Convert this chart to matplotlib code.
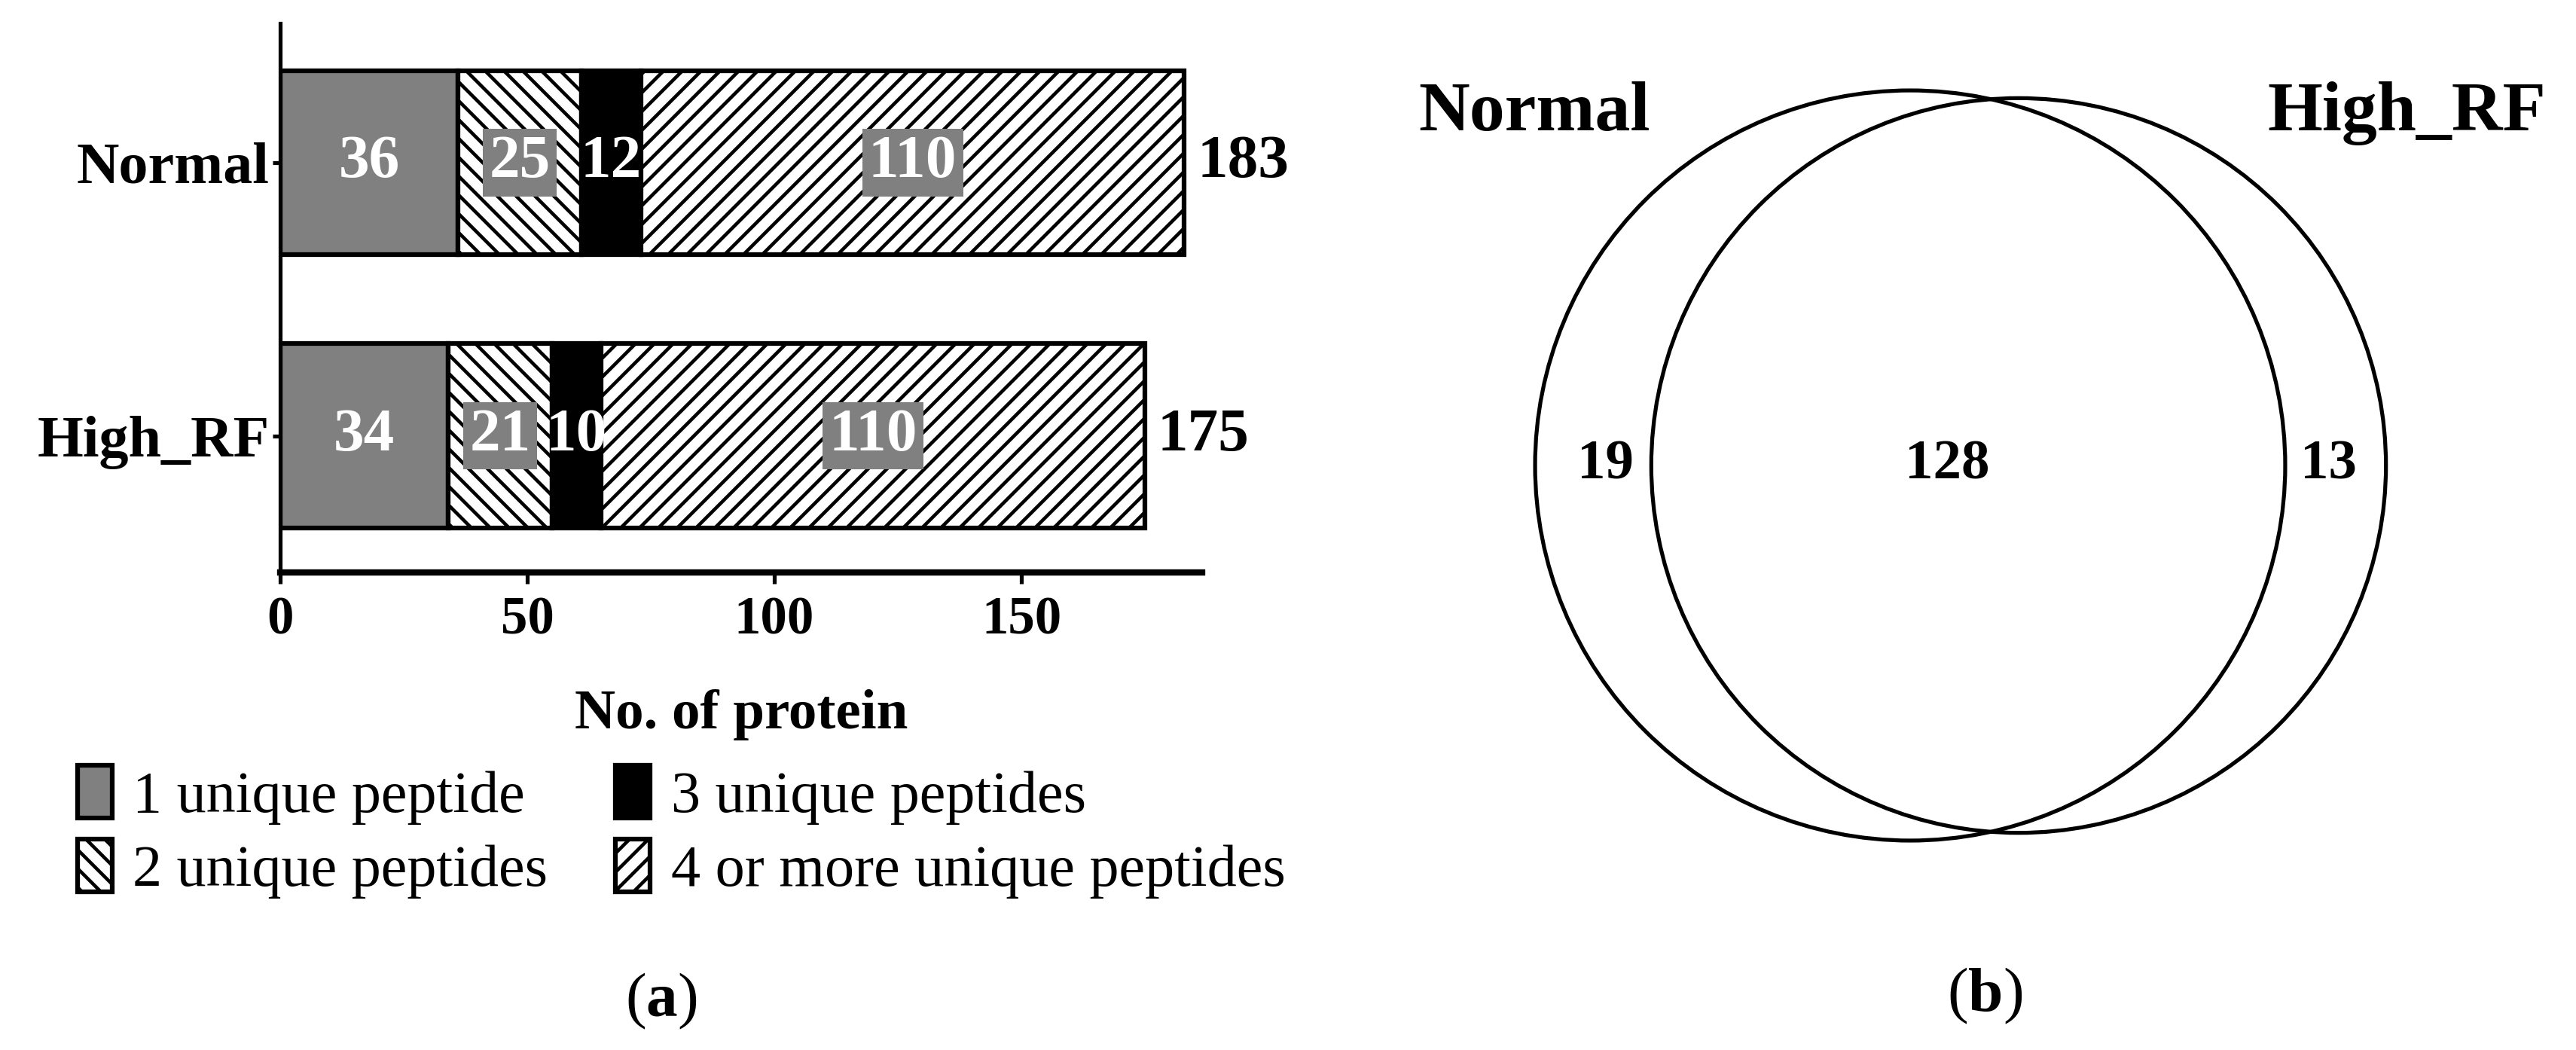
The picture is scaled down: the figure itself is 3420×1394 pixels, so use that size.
import matplotlib.pyplot as plt
from matplotlib.patches import Circle
import numpy as np

plt.rcParams["font.family"] = ["Liberation Serif", "DejaVu Serif"]
plt.rcParams["mathtext.fontset"] = "custom"
plt.rcParams["mathtext.rm"] = "Liberation Serif"
plt.rcParams["mathtext.bf"] = "Liberation Serif:bold"
plt.rcParams["hatch.linewidth"] = 2.2
plt.rcParams["hatch.color"] = "black"

# data
GROUPS = ["Normal", "High_RF"]
CATEGORIES = ["1 unique peptide", "2 unique peptides",
              "3 unique peptides", "4 or more unique peptides"]
NORMAL_COUNTS = [36, 25, 12, 110]
HIGH_RF_COUNTS = [34, 21, 10, 110]
XTICKS = [0, 50, 100, 150]

VENN_SETS = ["Normal", "High_RF"]
ONLY_NORMAL = 19
SHARED = 128
ONLY_HIGH_RF = 13

# styles
FILLS = ["#808080", "white", "black", "white"]
HATCHES = [None, "\\\\", None, "//"]
GREY = "#808080"

fig = plt.figure(figsize=(22.8, 1394 / 150), dpi=150)

# (a) stacked bars
ax = fig.add_axes([0.1088, 0.4548, 0.3579, 0.5230])
ypos = np.array([1, 0])
data = np.array([NORMAL_COUNTS, HIGH_RF_COUNTS])
left = np.zeros(len(GROUPS))
for j, cat in enumerate(CATEGORIES):
    vals = data[:, j]
    ax.barh(ypos, vals, left=left, height=0.675, color=FILLS[j],
            hatch=HATCHES[j], edgecolor="black", linewidth=3, label=cat)
    for y, v, l in zip(ypos, vals, left):
        box = None
        if HATCHES[j]:
            box = dict(boxstyle="square,pad=0.1", fc=GREY, ec="none")
        ax.text(l + v / 2, y, str(v), ha="center", va="center",
                color="white", fontsize=39, fontweight="bold", bbox=box)
    left = left + vals

for y, total in zip(ypos, left):
    ax.annotate(str(int(total)), (total, y), xytext=(8, 0),
                textcoords="offset points", ha="left", va="center",
                fontsize=39, fontweight="bold")

ax.set_xlim(0, 186.6)
ax.set_ylim(-0.5, 1.51)
ax.set_yticks(ypos, GROUPS, fontsize=37.5, fontweight="bold")
ax.set_xticks(XTICKS, [str(t) for t in XTICKS], fontsize=34, fontweight="bold")
ax.spines[["top", "right"]].set_visible(False)
ax.spines["left"].set_linewidth(2.5)
ax.spines["bottom"].set_linewidth(4)
ax.tick_params(axis="x", length=7, width=2.5, pad=8)
ax.tick_params(axis="y", length=5, width=2.5, pad=2)
ax.set_xlabel("No. of protein", fontsize=36, fontweight="bold", labelpad=28)

handles, labels = ax.get_legend_handles_labels()
fig.legend(handles, labels, ncol=2, loc="upper left",
           bbox_to_anchor=(0.0301, 0.271), frameon=False, fontsize=37.5,
           handlelength=0.59, handleheight=1.0, handletextpad=0.35,
           columnspacing=1.15, labelspacing=0.25, borderpad=0,
           borderaxespad=0)

fig.text(0.2567, 0.0466, r"($\mathbf{a}$)", ha="center", va="center",
         fontsize=40)

# (b) venn diagram, drawn in pixel units
vax = fig.add_axes([0, 0, 1, 1])
vax.set_xlim(0, 3420)
vax.set_ylim(1394, 0)
vax.axis("off")

scale = 41.07
r1 = scale * np.sqrt(ONLY_NORMAL + SHARED)
r2 = scale * np.sqrt(ONLY_HIGH_RF + SHARED)
c1, c2, cy = 2536, 2680, 618
for cx, r in [(c1, r1), (c2, r2)]:
    vax.add_patch(Circle((cx, cy), r, fill=False, ec="black", lw=2.5))

region_x = [2131, 2585, 3091]
for x, v in zip(region_x, [ONLY_NORMAL, SHARED, ONLY_HIGH_RF]):
    vax.text(x, cy, str(v), ha="center", va="center", fontsize=36,
             fontweight="bold")

vax.text(1883, 173, VENN_SETS[0], ha="left", va="baseline", fontsize=45,
         fontweight="bold")
vax.text(3380, 173, VENN_SETS[1], ha="right", va="baseline", fontsize=45,
         fontweight="bold")

fig.text(0.7705, 0.0517, r"($\mathbf{b}$)", ha="center", va="center",
         fontsize=40)

fig.savefig("out.png", dpi=150)
